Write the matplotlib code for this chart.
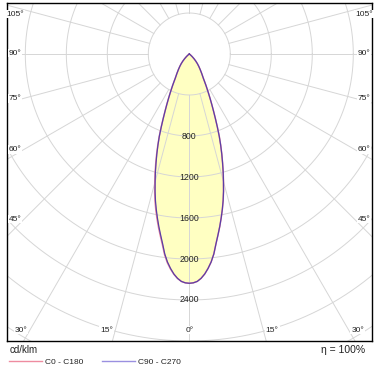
import numpy as np
import matplotlib
matplotlib.use("Agg")
import matplotlib.pyplot as plt
from matplotlib.lines import Line2D

# ---------------- data (cd/klm) ----------------
gamma_deg = [0, 1, 2, 3, 4, 5, 6, 7, 8, 9, 10, 11, 12, 13, 14, 15, 16, 17, 18, 19,
             20, 21, 22, 23, 24, 25, 26, 27, 28, 29, 30, 32.5, 35, 37.5, 40, 42.5,
             45, 47.5, 50, 55, 60, 90, 180]
i_c0 = [2237, 2233, 2220, 2192, 2152, 2100, 2040, 1965, 1870, 1788, 1710, 1630,
        1550, 1468, 1380, 1288, 1200, 1110, 1025, 940, 855, 765, 680, 605, 540,
        482, 430, 385, 345, 307, 275, 225, 185, 152, 122, 92, 64, 40, 22, 6, 0, 0, 0]
i_c180 = [2237, 2233, 2220, 2193, 2155, 2106, 2048, 1975, 1882, 1801, 1724, 1645,
          1566, 1484, 1396, 1302, 1213, 1121, 1034, 946, 860, 768, 682, 606, 541,
          482, 430, 385, 345, 307, 275, 225, 185, 152, 122, 92, 64, 40, 22, 6, 0, 0, 0]
i_c90 = [2237, 2233, 2220, 2192, 2152, 2100, 2040, 1965, 1870, 1788, 1710, 1630,
         1550, 1468, 1380, 1288, 1200, 1110, 1025, 940, 855, 765, 680, 605, 540,
         482, 430, 385, 345, 307, 275, 225, 185, 152, 122, 92, 64, 40, 22, 6, 0, 0, 0]
i_c270 = [2237, 2233, 2220, 2192, 2152, 2100, 2040, 1965, 1870, 1788, 1710, 1630,
          1550, 1468, 1380, 1288, 1200, 1110, 1025, 940, 855, 765, 680, 605, 540,
          482, 430, 385, 345, 307, 275, 225, 185, 152, 122, 92, 64, 40, 22, 6, 0, 0, 0]

ring_values = [800, 1200, 1600, 2000, 2400]
side_angles = [45, 60, 75, 90, 105]
bottom_angles = [-30, -15, 0, 15, 30]
series_names = ["C0 - C180", "C90 - C270"]
unit_label = "cd/klm"
efficiency_label = "\u03b7 = 100%"

# ---------------- style ----------------
plt.rcParams['font.family'] = ['Liberation Sans', 'DejaVu Sans']
col_c0 = '#ee8ca0'
col_c90 = '#5a3fa6'
col_c90_legend = '#9a90e0'
fill_col = '#ffffc2'
grid_col = '#d6d6d6'
text_col = '#222222'

W, H = 379, 372
fig = plt.figure(figsize=(W / 100, H / 100), dpi=100)

# pixel layout of the frame and pole
fx0, fx1, fy0, fy1 = 7, 372, 3, 341
cx, cy = 189.3, 54.0
s = 0.1025  # px per cd/klm

ax = fig.add_axes([fx0 / W, 1 - fy1 / H, (fx1 - fx0) / W, (fy1 - fy0) / H])
ax.set_xlim((fx0 - cx) / s, (fx1 - cx) / s)
ax.set_ylim(-(fy1 - cy) / s, (cy - fy0) / s)
ax.set_aspect('equal', adjustable='box')
ax.set_xticks([])
ax.set_yticks([])
for sp in ax.spines.values():
    sp.set_color('black')
    sp.set_linewidth(1.0)


def px2data(px, py):
    return (px - cx) / s, (cy - py) / s


def curve(right_vals, left_vals):
    g = np.radians(np.array(gamma_deg, dtype=float))
    r_r = np.array(right_vals, dtype=float)
    r_l = np.array(left_vals, dtype=float)
    xr, yr = r_r * np.sin(g), -r_r * np.cos(g)
    xl, yl = -r_l[::-1] * np.sin(g[::-1]), -r_l[::-1] * np.cos(g[::-1])
    return np.concatenate([xl, xr]), np.concatenate([yl, yr])


x0c, y0c = curve(i_c0, i_c180)
x9c, y9c = curve(i_c90, i_c270)

# fill
ax.fill(x0c, y0c, color=fill_col, lw=0, zorder=1)
ax.fill(x9c, y9c, color=fill_col, lw=0, zorder=1)

# grid circles
t = np.linspace(0, 2 * np.pi, 721)
for r in range(400, 6001, 400):
    ax.plot(r * np.cos(t), r * np.sin(t), color=grid_col, lw=0.7, zorder=2)
# spokes
for a in range(0, 360, 15):
    ar = np.radians(a)
    ax.plot([400 * np.sin(ar), 6000 * np.sin(ar)],
            [-400 * np.cos(ar), -6000 * np.cos(ar)],
            color=grid_col, lw=0.7, zorder=2)

# curves
ax.plot(x0c, y0c, color=col_c0, lw=1.1, zorder=3)
ax.plot(x9c, y9c, color=col_c90, lw=0.9, zorder=4)

# ring labels
for v in ring_values:
    ax.text(0, -v, str(v), ha='center', va='center', fontsize=6.3,
            color=text_col, zorder=5)

# side angle labels
bb = dict(facecolor='white', edgecolor='none', pad=0.6)
for a in side_angles:
    py = cy + 165 / np.tan(np.radians(a)) if a != 90 else cy - 1
    py = max(py, 14)
    for px in (15, 364):
        x, y = px2data(px, py)
        ax.text(x, y, f"{a}\u00b0", ha='center', va='center', fontsize=6.0,
                color=text_col, zorder=5, bbox=bb)
# bottom angle labels
for a in bottom_angles:
    off = 276 * np.tan(np.radians(abs(a)))
    off = off + 9 if a != 0 else 0
    px = cx + np.sign(a) * off
    x, y = px2data(px, 330)
    ax.text(x, y, f"{abs(a)}\u00b0", ha='center', va='center', fontsize=6.0,
            color=text_col, zorder=5, bbox=bb)

# texts below the frame
fig.text(10 / W, 1 - 350 / H, unit_label, ha='left', va='center', fontsize=7,
         color=text_col)
fig.text(365 / W, 1 - 350 / H, efficiency_label, ha='right', va='center',
         fontsize=7.5, color=text_col)

handles = [Line2D([], [], color=col_c0, lw=1.0),
           Line2D([], [], color=col_c90_legend, lw=1.0)]
fig.legend(handles, series_names, loc='center left',
           bbox_to_anchor=(9 / W, 1 - 362 / H), ncol=2, frameon=False,
           fontsize=6.0, handlelength=3.9, handletextpad=0.4,
           columnspacing=2.3, borderpad=0, borderaxespad=0,
           labelcolor=text_col)

fig.savefig('out.png', dpi=100)
